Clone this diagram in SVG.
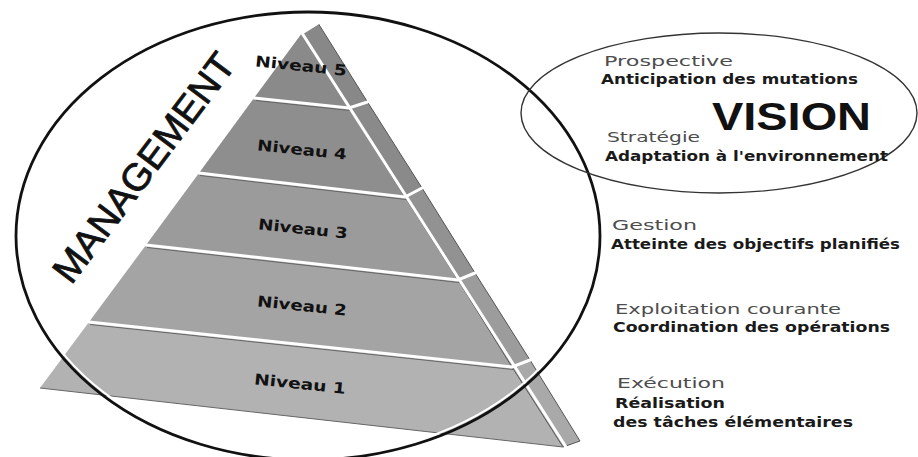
<svg xmlns="http://www.w3.org/2000/svg" width="918" height="457" viewBox="0 0 918 457">
  <style>
    .band { stroke: none; }
    .side { stroke: #555; stroke-width: 1; }
    .gap { stroke: #fff; stroke-width: 3; fill: none; stroke-linecap: round; }
    .shade { stroke: #666; stroke-width: 1; fill: none; }
    .lvl { font-family: "DejaVu Sans", Verdana, sans-serif; font-weight: bold; font-size: 15px; fill: #111; text-anchor: middle; }
    .head { font-family: "DejaVu Sans", Verdana, sans-serif; font-size: 14px; fill: #4d4d4d; }
    .desc { font-family: "DejaVu Sans", Verdana, sans-serif; font-weight: bold; font-size: 14px; fill: #1a1a1a; }
    .big { font-family: "Liberation Sans", Arial, sans-serif; fill: #111; }
  </style>
  <rect width="918" height="457" fill="#fff"/>

  <!-- pyramid: front face bands, levels 1 (bottom) to 5 (top) -->
  <g id="pyramid">
    <g id="level-1">
      <polygon class="band" fill="#b2b2b2" points="89,322 512,367 563,447 40,388"/>
      <polygon class="side" fill="#a9a9a9" points="512,367 530,360 580,441 563,447"/>
      <text class="lvl" x="300" y="389" textLength="92" lengthAdjust="spacingAndGlyphs" transform="rotate(6 300 384)">Niveau 1</text>
    </g>
    <g id="level-2">
      <polygon class="band" fill="#a4a4a4" points="146,245 458,280 512,367 89,322"/>
      <polygon class="side" fill="#9c9c9c" points="458,280 475,273 530,360 512,367"/>
      <text class="lvl" x="302" y="311" textLength="90" lengthAdjust="spacingAndGlyphs" transform="rotate(6 302 306)">Niveau 2</text>
    </g>
    <g id="level-3">
      <polygon class="band" fill="#9b9b9b" points="199,173 405,197 458,280 146,245"/>
      <polygon class="side" fill="#929292" points="405,197 422,188 475,273 458,280"/>
      <text class="lvl" x="303" y="234" textLength="90" lengthAdjust="spacingAndGlyphs" transform="rotate(6 303 229)">Niveau 3</text>
    </g>
    <g id="level-4">
      <polygon class="band" fill="#8e8e8e" points="254,98 349,108 405,197 199,173"/>
      <polygon class="side" fill="#8a8a8a" points="349,108 367.5,102 422,188 405,197"/>
      <text class="lvl" x="302" y="155" textLength="90" lengthAdjust="spacingAndGlyphs" transform="rotate(6 302 150)">Niveau 4</text>
    </g>
    <g id="level-5">
      <polygon class="band" fill="#8a8a8a" points="302,33 349,108 254,98"/>
      <polygon class="side" fill="#888" points="302,33 318,23 367.5,102 349,108"/>
    </g>

    <!-- shadow under each divider -->
    <polyline class="shade" points="256,100.5 350,110.5"/>
    <polyline class="shade" points="200,175.5 406,199.5"/>
    <polyline class="shade" points="147,247.5 459,282.5"/>
    <polyline class="shade" points="90,324.5 513,369.5"/>
    <polyline class="shade" points="40,388 563,447"/>

    <!-- white seams between bands and along the front edge -->
    <polyline class="gap" points="254,98 349,108 367.5,102"/>
    <polyline class="gap" points="199,173 405,197 422,188"/>
    <polyline class="gap" points="146,245 458,280 475,273"/>
    <polyline class="gap" points="89,322 512,367 530,360"/>
    <line class="gap" x1="302" y1="33" x2="566" y2="447"/>
    <polyline class="gap" points="302,33 318,23" stroke-width="2"/>

    <text class="lvl" x="301" y="71" textLength="92" lengthAdjust="spacingAndGlyphs" transform="rotate(6 301 66)">Niveau 5</text>
  </g>

  <!-- management ring around the pyramid -->
  <g id="management">
    <ellipse cx="308" cy="236" rx="289" ry="221" fill="none" stroke="#fff" stroke-width="2"/>
    <ellipse cx="308" cy="236" rx="292" ry="224" fill="none" stroke="#111" stroke-width="2.8"/>
    <text class="big" x="143" y="181" font-size="38" text-anchor="middle" stroke="#111" stroke-width="0.8" textLength="276" lengthAdjust="spacingAndGlyphs" transform="rotate(-53 143 167)">MANAGEMENT</text>
  </g>

  <!-- vision ellipse with the two top levels -->
  <g id="vision">
    <ellipse cx="719" cy="113" rx="198" ry="80" fill="none" stroke="#333" stroke-width="1.4"/>
    <text class="big" x="712" y="130" font-size="39" font-weight="bold" textLength="159" lengthAdjust="spacingAndGlyphs">VISION</text>
    <text class="head" x="604" y="66" textLength="129" lengthAdjust="spacingAndGlyphs">Prospective</text>
    <text class="desc" x="601" y="84" textLength="257" lengthAdjust="spacingAndGlyphs">Anticipation des mutations</text>
    <text class="head" x="607" y="142" textLength="93" lengthAdjust="spacingAndGlyphs">Stratégie</text>
    <text class="desc" x="605" y="161" textLength="283" lengthAdjust="spacingAndGlyphs">Adaptation à l'environnement</text>
  </g>

  <g id="gestion">
    <text class="head" x="612" y="230" textLength="85" lengthAdjust="spacingAndGlyphs">Gestion</text>
    <text class="desc" x="611" y="249" textLength="289" lengthAdjust="spacingAndGlyphs">Atteinte des objectifs planifiés</text>
  </g>

  <g id="exploitation">
    <text class="head" x="615" y="314" textLength="226" lengthAdjust="spacingAndGlyphs">Exploitation courante</text>
    <text class="desc" x="613" y="332" textLength="277" lengthAdjust="spacingAndGlyphs">Coordination des opérations</text>
  </g>

  <g id="execution">
    <text class="head" x="617" y="388" textLength="108" lengthAdjust="spacingAndGlyphs">Exécution</text>
    <text class="desc" x="615" y="408" textLength="110" lengthAdjust="spacingAndGlyphs">Réalisation</text>
    <text class="desc" x="613" y="427" textLength="240" lengthAdjust="spacingAndGlyphs">des tâches élémentaires</text>
  </g>
</svg>
